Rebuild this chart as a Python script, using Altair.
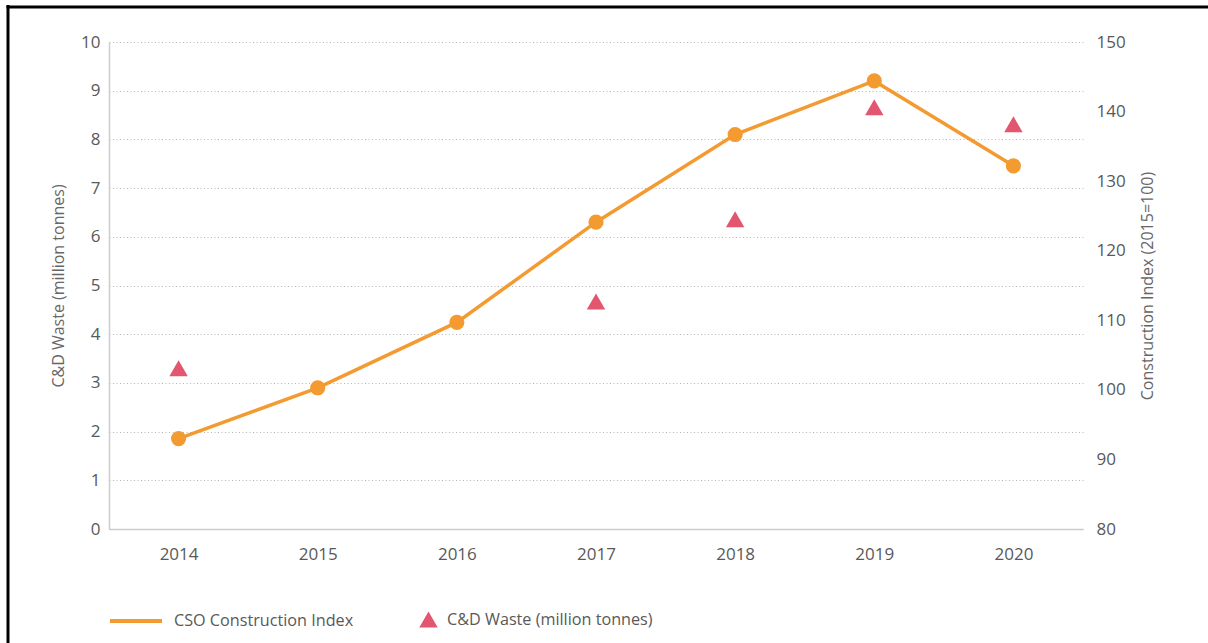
import altair as alt
import pandas as pd

# ---- data ----
years = ["2014", "2015", "2016", "2017", "2018", "2019", "2020"]
index_values = [93.0, 100.3, 109.7, 124.1, 136.7, 144.4, 132.2]   # CSO Construction Index (2015=100)
waste_years = ["2014", "2017", "2018", "2019", "2020"]
waste_values = [3.30, 4.67, 6.36, 8.66, 8.31]                      # C&D Waste (million tonnes)
left_ticks = list(range(0, 11))
right_ticks = list(range(80, 151, 10))

LINE_NAME = "CSO Construction Index"
WASTE_NAME = "C&D Waste (million tonnes)"
ORANGE = "#F39A30"
PINK = "#E2566F"
FONT = "Open Sans"
LABEL = "#595959"
TITLE = "#666666"
TICK_FS = 17
TITLE_FS = 16
LEGEND_FS = 16.2

df_index = pd.DataFrame({"year": years, "index": index_values, "series": LINE_NAME})
df_waste = pd.DataFrame({"year": waste_years, "waste": waste_values, "series": WASTE_NAME})

x_enc = alt.X(
    "year:O",
    scale=alt.Scale(domain=years),
    axis=alt.Axis(
        title=None, labelAngle=0, ticks=False, tickSize=0, labelPadding=17,
        domainColor="#cccccc", domainWidth=1.5, labelFontSize=TICK_FS, labelColor=LABEL,
        labelFont=FONT, grid=False,
    ),
)

triangles = alt.Chart(df_waste).mark_point(
    shape="triangle-up", filled=True, size=340, opacity=1
).encode(
    x=x_enc,
    y=alt.Y(
        "waste:Q",
        scale=alt.Scale(domain=[0, 10], nice=False, zero=True),
        axis=alt.Axis(
            orient="left", title="C&D Waste (million tonnes)", values=left_ticks,
            grid=True, gridDash=[1, 2.5], gridColor="#b5b5b5", gridWidth=1,
            domainColor="#cccccc", domainWidth=1.5, ticks=False, tickSize=0,
            labelPadding=9, titlePadding=14, labelFontSize=TICK_FS, titleFontSize=TITLE_FS,
            labelColor=LABEL, titleColor=TITLE, titleFontWeight="normal",
            labelFont=FONT, titleFont=FONT,
        ),
    ),
    fill=alt.Fill(
        "series:N",
        scale=alt.Scale(domain=[WASTE_NAME], range=[PINK]),
        legend=alt.Legend(
            title=None, orient="none", legendX=310, legendY=568,
            symbolType="triangle-up", symbolSize=340, symbolStrokeWidth=0,
            labelFontSize=LEGEND_FS, labelColor=LABEL, labelFont=FONT, labelOffset=9,
            labelLimit=500,
        ),
    ),
)

y_right = alt.Y(
    "index:Q",
    scale=alt.Scale(domain=[80, 150], nice=False, zero=False),
    axis=alt.Axis(
        orient="right", title="Construction Index (2015=100)", values=right_ticks,
        grid=False, domain=False, ticks=False, tickSize=0,
        labelPadding=13, titlePadding=14, labelFontSize=TICK_FS, titleFontSize=TITLE_FS,
        labelColor=LABEL, titleColor=TITLE, titleFontWeight="normal",
        labelFont=FONT, titleFont=FONT, titleAngle=270, titleBaseline="top",
    ),
)

line = alt.Chart(df_index).mark_line(strokeWidth=3.5).encode(
    x=x_enc,
    y=y_right,
    stroke=alt.Stroke(
        "series:N",
        scale=alt.Scale(domain=[LINE_NAME], range=[ORANGE]),
        legend=alt.Legend(
            title=None, orient="none", legendX=-1, legendY=551,
            symbolType="stroke", symbolSize=2704, symbolStrokeWidth=4,
            labelFontSize=LEGEND_FS, labelColor=LABEL, labelFont=FONT, labelOffset=10,
            labelLimit=500,
        ),
    ),
)

circles = alt.Chart(df_index).mark_circle(size=230, opacity=1, color=ORANGE).encode(
    x=x_enc,
    y=y_right,
)

# decorative frame of the original picture (left and top edges)
frame_data = alt.Data(values=[{"k": 1}])
frame_left = alt.Chart(frame_data).mark_rule(color="black", strokeWidth=3).encode(
    x=alt.value(-101), y=alt.value(-37), y2=alt.value(620)
)
frame_top = alt.Chart(frame_data).mark_rule(color="black", strokeWidth=3).encode(
    x=alt.value(-102.5), x2=alt.value(1120), y=alt.value(-35)
)

chart = alt.layer(
    frame_left, frame_top, triangles, alt.layer(line, circles)
).resolve_scale(
    y="independent"
).properties(
    width=974, height=487,
    autosize=alt.AutoSizeParams(type="none"),
    padding={"left": 109, "top": 42, "right": 125, "bottom": 114},
    background="white",
).configure_view(
    stroke=None
)

chart.save("out.html", embed_options={"renderer": "svg", "actions": False})
